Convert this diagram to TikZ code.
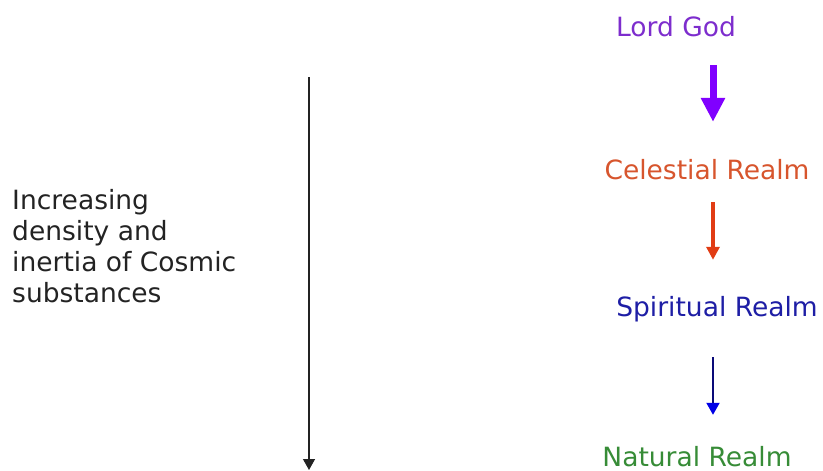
\documentclass[tikz,border=0pt]{standalone}
\usepackage{fontspec}
\usepackage{xcolor}
\setmainfont{DejaVu Sans}
\usetikzlibrary{arrows.meta}
\usetikzlibrary{positioning}
\definecolor{godtext}{RGB}{125,45,205}
\definecolor{godarrow}{RGB}{128,0,255}
\definecolor{celtext}{RGB}{215,85,45}
\definecolor{celarrow}{RGB}{225,60,20}
\definecolor{spirtext}{RGB}{30,30,165}
\definecolor{spirline}{RGB}{10,10,120}
\definecolor{spirhead}{RGB}{0,0,230}
\definecolor{nattext}{RGB}{55,140,55}
\definecolor{inktext}{RGB}{35,35,35}
\tikzset{
	realm/.style={inner sep=0pt, anchor=base, text height=19pt, text depth=5pt, font=\fontsize{26.5}{30}\selectfont},
}

\begin{document}
\begin{tikzpicture}[x=1pt, y=-1pt]
				\useasboundingbox (0,0) rectangle (823,471);

				\node[realm, text=godtext] (god) at (676,36) {Lord God};
				\node[realm, text=celtext] (celestial) at (707,179) {Celestial Realm};
				\node[realm, text=spirtext] (spiritual) at (717,316) {Spiritual Realm};
				\node[realm, text=nattext] (natural) at (697,466) {Natural Realm};
				\coordinate (axis) at (713,0);

				\draw[godarrow, line width=7pt, -{Triangle[length=24pt, width=23pt]}, shorten <=24pt, shorten >=38pt] (god.south -| axis) -- (celestial.north -| axis);
				\draw[celarrow, line width=3.5pt, -{Triangle[length=13pt, width=13pt]}, shorten <=18pt, shorten >=37pt] (celestial.south -| axis) -- (spiritual.north -| axis);
				\draw[spirline, line width=2pt, -{Triangle[length=12pt, width=13pt, color=spirhead]}, shorten <=36pt, shorten >=32pt] (spiritual.south -| axis) -- (natural.north -| axis);

				\node[anchor=north west, align=left, inner sep=0pt, text=inktext, font=\fontsize{26.5}{31}\selectfont] (density) at (12,189) {Increasing\\density and\\inertia of Cosmic\\substances};

				\coordinate (top) at (309,77);
				\coordinate (bottom) at (309,470);
				\draw[inktext, line width=1.3pt, -{Triangle[length=11pt, width=12pt]}] (top) -- (bottom);
			\end{tikzpicture}
\end{document}
